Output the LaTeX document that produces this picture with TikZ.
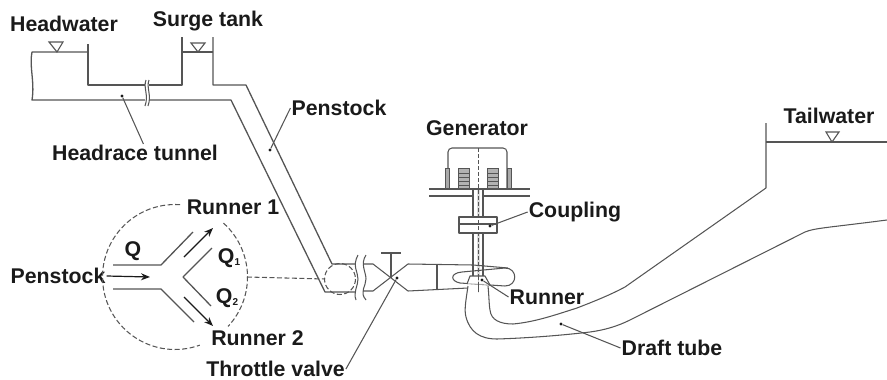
\documentclass[tikz,border=0pt]{standalone}
\usepackage{fontspec}
\setmainfont{Liberation Sans}
\usetikzlibrary{arrows.meta}
\definecolor{ln}{HTML}{555555}
\definecolor{tx}{HTML}{1A1A1A}
\tikzset{
 pipe/.style={draw=ln,line width=1.3pt,line join=round},
 thin pipe/.style={draw=ln,line width=1.05pt,line join=round},
 lbl/.style={font=\bfseries\fontsize{21.3}{23}\selectfont,text=tx,inner sep=1pt,anchor=center},
 leader/.style={draw=ln,line width=1.05pt},
 ddot/.style={circle,fill=tx,inner sep=0pt,minimum size=3.2pt},
 level/.style={draw=ln,line width=1.1pt,fill=white},
 dash ring/.style={draw=ln,line width=1.05pt,dash pattern=on 5pt off 2.5pt},
 flow/.style={draw=tx,line width=1.2pt,-{Stealth[length=9pt,width=7pt]}},
}
\newcommand{\subs}[1]{\raisebox{-2pt}{\fontsize{10}{10}\selectfont #1}}
\begin{document}
\begin{tikzpicture}[x=1pt,y=-1pt]
\useasboundingbox (0,0) rectangle (887,380);
% Labels
\node[lbl] (hw) at (64,24) {Headwater};
\node[lbl] (st) at (208,21) {Surge tank};
\node[lbl] (ht) at (135,153) {Headrace tunnel};
\node[lbl] (pk) at (339,108) {Penstock};
\node[lbl] (gn) at (477,128) {Generator};
\node[lbl] (tw) at (829,116) {Tailwater};
\node[lbl] (cp) at (575,212) {Coupling};
\node[lbl] (rn) at (547,297) {Runner};
\node[lbl] (dt) at (672,348) {Draft tube};
\node[lbl] (tv) at (275.5,369) {Throttle valve};
\node[lbl] (ps) at (58,276) {Penstock};
\node[lbl] (r1) at (233,207) {Runner 1};
\node[lbl] (r2) at (257.5,338) {Runner 2};
\node[lbl] (q0) at (133,251) {Q};
\node[lbl] (q1) at (229,258) {Q\subs{1}};
\node[lbl] (q2) at (227,298) {Q\subs{2}};
% Headwater and tunnel
\draw[pipe] (88,44) -- (88,85) -- (182,85) -- (182,37);
\draw[pipe] (88,52) -- (32,52) .. controls (29,66) and (35,82) .. (32,100) -- (231,100) -- (325,292) -- (355,292);
\draw[pipe] (182,52) -- (213,52);
\draw[pipe] (213,37) -- (213,85) -- (246,85) -- (332,264) -- (355,264);
% Tunnel break
\fill[white] (145,78) rectangle (149,107);
\draw[thin pipe] (146,80) .. controls (143,88) and (149,95) .. (145,106);
\draw[thin pipe] (149,80) .. controls (146,88) and (152,95) .. (148,106);
% Level marks
\draw[level] (49,42) -- (63,42) -- (57,52) -- cycle;
\draw[level] (191,43) -- (205,43) -- (198,52) -- cycle;
\draw[level] (826,132) -- (839,132) -- (832,142) -- cycle;
% Inset
\draw[dash ring] plot[domain=-86:-290,samples=60] ({175+72.5*cos(\x)},{277+72.5*sin(\x)});
\draw[dash ring] plot[domain=-48:43,samples=30] ({175+72.5*cos(\x)},{277+72.5*sin(\x)});
\coordinate (ringE) at (247,277);
\coordinate (ballW) at (325,279);
\draw[dash ring] (ringE) -- (ballW);
\draw[pipe] (113,265) -- (161,265) -- (193,232);
\draw[pipe] (113,289) -- (161,289) -- (194,322);
\draw[pipe] (212,248) -- (183,277) -- (211,306);
\coordinate (fa) at (150,277);
\coordinate (f1a) at (184,257); \coordinate (f1b) at (213,228);
\coordinate (f2a) at (184,297); \coordinate (f2b) at (213,326);
\draw[flow] (ps.east) -- (fa);
\draw[flow] (f1a) -- (f1b);
\draw[flow] (f2a) -- (f2b);
% Spherical valve and joints
\draw[dash ring] (340,279) circle[radius=15.5];
\draw[thin pipe] (358,255) .. controls (352,266) and (358,272) .. (358,279) .. controls (358,286) and (353,292) .. (356,300);
\draw[thin pipe] (366,255) .. controls (360,264) and (366,272) .. (366,279) .. controls (366,286) and (359,292) .. (366,300);
% Throttle valve
\draw[thin pipe] (363,264) -- (373,264) -- (408,291);
\draw[thin pipe] (364,291) -- (373,291) -- (408,264);
\draw[thin pipe] (391,278) -- (391,253);
\draw[thin pipe] (381,253) -- (401,253);
% Casing
\draw[thin pipe] (408,264) -- (473,265) -- (508,268);
\draw[thin pipe] (408,291) -- (468,288);
\draw[thin pipe] (437,265) -- (437,290);
% Generator
\draw[thin pipe,rounded corners=4pt] (448,189) -- (448,148) -- (507,148) -- (507,189);
\foreach \xa/\xb in {445/449,507/511}{
 \fill[ln!50] (\xa,168) rectangle (\xb,188);
 \draw[draw=ln,line width=0.6pt] (\xa,168) rectangle (\xb,188);
}
\foreach \xa in {458,487}{
 \fill[ln!45] (\xa,168) rectangle (\xa+11,188);
 \draw[draw=ln,line width=0.7pt] (\xa,168) rectangle (\xa+11,188);
 \foreach \ya in {173,177,181,185}{
  \draw[draw=ln,line width=1pt] (\xa,\ya) -- (\xa+11,\ya);
 }
}
\draw[thin pipe] (429,189) -- (530,189);
\draw[thin pipe] (429,196) -- (473,196);
\draw[thin pipe] (483,196) -- (530,196);
% Shaft
\draw[thin pipe] (473,189) -- (473,217);
\draw[thin pipe] (483,189) -- (483,217);
\draw[thin pipe] (473,233) -- (473,276);
\draw[thin pipe] (483,233) -- (483,276);
\draw[draw=ln,line width=3pt,opacity=.2] (478,189) -- (478,276);
% Coupling
\draw[thin pipe,fill=white] (459,217) rectangle (497,233);
\draw[thin pipe] (459,224) -- (497,224);
\draw[draw=ln,line width=0.7pt,dash pattern=on 4pt off 2pt] (478,148) -- (478,292);
% Runner
\draw[thin pipe] (462,272) -- (505,268) .. controls (518,268) and (518,286) .. (505,286) -- (460,283) .. controls (450,281) and (450,273) .. (462,272) -- cycle;
\draw[thin pipe,fill=white,fill opacity=.7] (467,284) -- (470,276) -- (485,276) -- (490,285);
\draw[draw=ln,line width=0.7pt,dash pattern=on 4pt off 2pt] (478,276) -- (478,292);
% Draft tube
\draw[thin pipe] (468,286) .. controls (466,300) and (464,310) .. (466,317)
  .. controls (470,332) and (480,339) .. (497,339)
  .. controls (530,338) and (565,335) .. (590,332)
  .. controls (605,330) and (618,326) .. (630,320)
  -- (805,232) .. controls (815,228) and (825,228) .. (887,220);
\draw[thin pipe] (488,286) .. controls (489,295) and (489,305) .. (490,310)
  .. controls (491,320) and (500,324) .. (513,324)
  .. controls (535,322) and (555,315) .. (577,308)
  .. controls (595,301) and (610,295) .. (625,287)
  -- (766,188) -- (766,123);
\draw[thin pipe] (766,142) -- (887,142);
% Leader dots and leaders
\node[ddot] (dht) at (122,96) {};
\node[ddot] (dpk) at (270,150) {};
\node[ddot] (dcp) at (490,226) {};
\node[ddot] (dtv) at (397,278) {};
\node[ddot] (drn) at (482,280) {};
\node[ddot] (ddt) at (561,324) {};
\draw[leader] (dht) -- (ht.47);
\draw[leader] (dpk) -- (pk.west);
\draw[leader] (dcp) -- (cp.west);
\draw[leader] (dtv) -- (tv.east);
\draw[leader] (drn) -- (rn.west);
\draw[leader] (ddt) -- (dt.west);
\end{tikzpicture}
\end{document}
